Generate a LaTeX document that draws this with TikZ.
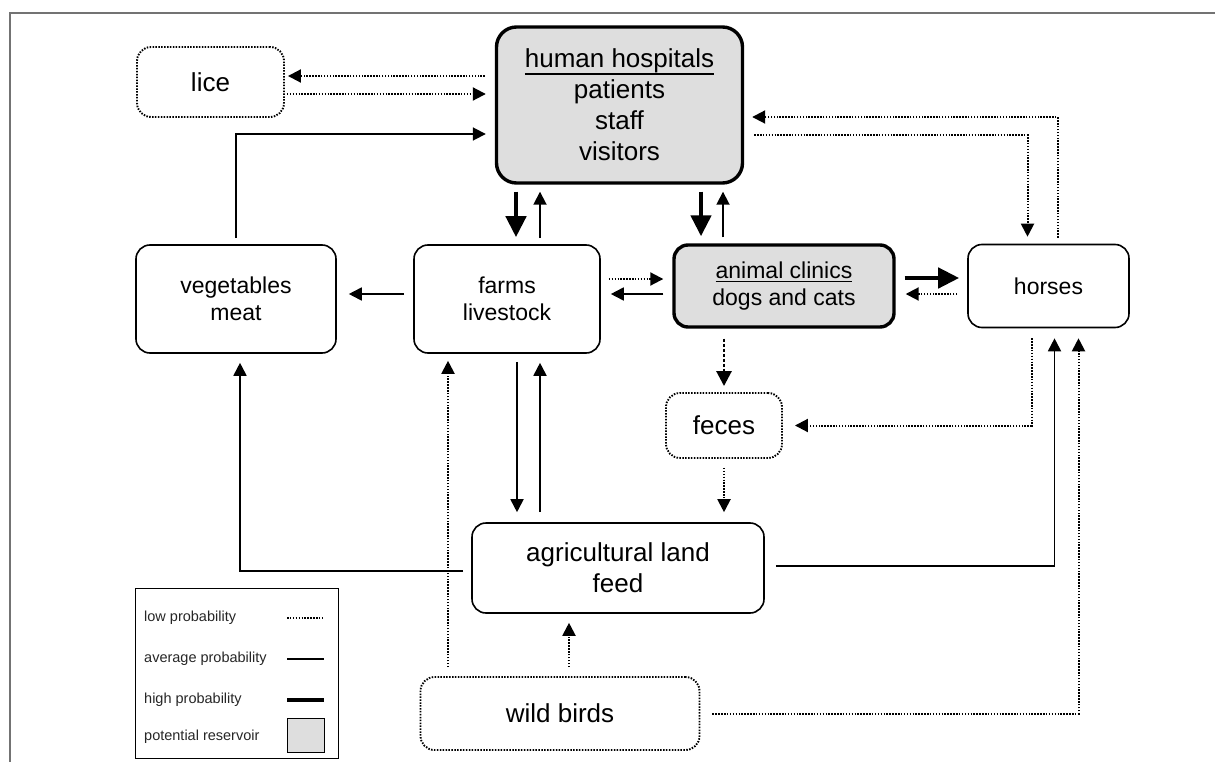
\documentclass[tikz,border=0pt]{standalone}
\usepackage{fontspec}
\setmainfont{Liberation Sans}
\usetikzlibrary{arrows.meta,calc}
\newcommand\ulined[2]{\leavevmode\setbox0=\hbox{#2}\rlap{\rule[#1]{\wd0}{1.8pt}}\box0}
\begin{document}
\begin{tikzpicture}[x=1pt,y=-1pt,
  nbox/.style={draw,line width=1.6pt,rounded corners=14pt,align=center,inner sep=0pt},
  lowbox/.style={nbox,line width=1.9pt,dash pattern=on 1.5pt off 1.4pt},
  resbox/.style={nbox,line width=3.4pt,fill=black!13},
  bigtext/.style={font=\fontsize{26}{31}\selectfont},
  midtext/.style={font=\fontsize{23}{27}\selectfont},
  legtext/.style={anchor=west,inner sep=0pt,text=black!85,font=\fontsize{14.5}{16}\selectfont},
  arrAvg/.style={line width=1.8pt,-{Triangle[length=13pt,width=13pt]}},
  arrLow/.style={line width=2pt,dash pattern=on 1.5pt off 1.4pt,-{Triangle[length=13pt,width=13pt]}},
  arrHigh/.style={line width=4.5pt,-{Triangle[length=21pt,width=20pt]}},
  arrFeces/.style={line width=2.8pt,dash pattern=on 3pt off 2pt,-{Triangle[length=15pt,width=15pt]}},
]
\useasboundingbox (0,0) rectangle (1215,762);
% frame
\draw[black!55,line width=1.5pt] (1215,13) -- (10,13) -- (10,762);

% nodes
\node[lowbox,bigtext,minimum width=147pt,minimum height=70pt] (lice) at (210.5,82) {lice};
\node[resbox,bigtext,minimum width=246pt,minimum height=156pt,rounded corners=20pt] (hosp) at (619.5,105)
  {\ulined{-7pt}{human hospitals}\\patients\\staff\\visitors};
\node[nbox,midtext,minimum width=200pt,minimum height=108pt] (veg) at (236,299) {vegetables\\meat};
\node[nbox,midtext,minimum width=186pt,minimum height=108pt] (farms) at (507,299) {farms\\livestock};
\node[resbox,midtext,minimum width=220pt,minimum height=82pt] (clinics) at (784,286)
  {\ulined{-4pt}{animal clinics}\\dogs and cats};
\node[nbox,midtext,minimum width=161pt,minimum height=83pt] (horses) at (1048.5,286) {horses};
\node[lowbox,bigtext,minimum width=116pt,minimum height=65pt] (feces) at (724,425.5) {feces};
\node[nbox,bigtext,minimum width=292pt,minimum height=90pt] (agri) at (618,568) {agricultural land\\feed};
\node[lowbox,bigtext,minimum width=279pt,minimum height=73pt] (wild) at (560,713.5) {wild birds};

% lice <-> hospital
\draw[arrLow,shorten <=10pt,shorten >=3pt] ($(hosp.west)+(0,-29)$) -- ($(lice.east)+(0,-6)$);
\draw[arrLow,shorten <=2pt,shorten >=9pt] ($(lice.east)+(0,12)$) -- ($(hosp.west)+(0,-11)$);
% vegetables -> hospital
\draw[arrAvg,shorten <=6pt,shorten >=9pt] (veg.north) |- ($(hosp.west)+(0,29)$);
% hospital <-> farms
\draw[arrHigh,shorten <=7pt,shorten >=7pt] ($(hosp.south -| farms.north)+(9,0)$) -- ($(farms.north)+(9,0)$);
\draw[arrAvg,shorten <=6pt,shorten >=7pt] ($(farms.north)+(33,0)$) -- ($(hosp.south -| farms.north)+(33,0)$);
% hospital <-> clinics
\draw[arrHigh,shorten <=7pt,shorten >=7pt] ($(hosp.south -| clinics.north)+(-83,0)$) -- ($(clinics.north)+(-83,0)$);
\draw[arrAvg,shorten <=6pt,shorten >=7pt] ($(clinics.north)+(-61,0)$) -- ($(hosp.south -| clinics.north)+(-61,0)$);
% hospital <-> horses
\draw[arrLow,shorten <=6pt,shorten >=8pt] ($(horses.north)+(9,0)$) |- ($(hosp.east)+(0,12)$);
\draw[arrLow,shorten <=10pt,shorten >=7pt] ($(hosp.east)+(0,30)$) -| ($(horses.north)+(-21,0)$);
% farms -> vegetables
\draw[arrAvg,shorten <=9pt,shorten >=12pt] ($(farms.west)+(0,-5)$) -- ($(veg.east)+(0,-5)$);
% farms <-> clinics
\draw[arrLow,shorten <=8pt,shorten >=9pt] ($(farms.east |- clinics.west)+(0,-7)$) -- ($(clinics.west)+(0,-7)$);
\draw[arrAvg,shorten <=9pt,shorten >=10pt] ($(clinics.west)+(0,8)$) -- ($(farms.east |- clinics.west)+(0,8)$);
% clinics <-> horses
\draw[arrHigh,shorten <=9pt,shorten >=8pt] ($(clinics.east)+(0,-8)$) -- ($(horses.west)+(0,-8)$);
\draw[arrLow,shorten <=10pt,shorten >=10pt] ($(horses.west)+(0,8)$) -- ($(clinics.east)+(0,8)$);
% clinics -> feces
\draw[arrFeces,shorten <=10pt,shorten >=6pt] ($(clinics.south)+(-60,0)$) -- (feces.north);
% horses -> feces
\draw[arrLow,shorten <=10pt,shorten >=12pt] ($(horses.south)+(-17,0)$) |- (feces.east);
% feces -> agri
\draw[arrLow,shorten <=9pt,shorten >=10pt] (feces.south) -- (feces.south |- agri.north);
% farms <-> agri
\draw[arrAvg,shorten <=8pt,shorten >=10pt] ($(farms.south)+(10,0)$) -- ($(farms.south |- agri.north)+(10,0)$);
\draw[arrAvg,shorten <=10pt,shorten >=9pt] ($(farms.south |- agri.north)+(33,0)$) -- ($(farms.south)+(33,0)$);
% agri -> vegetables
\draw[arrAvg,shorten <=8pt,shorten >=9pt] ($(agri.west)+(0,3)$) -| ($(veg.south)+(4,0)$);
% agri -> horses
\draw[arrAvg,shorten <=11pt,shorten >=10pt] ($(agri.east)+(0,-2)$) -| ($(horses.south)+(6,0)$);
% wild birds -> horses
\draw[arrLow,shorten <=12pt,shorten >=10pt] (wild.east) -| ($(horses.south)+(30,0)$);
% wild birds -> farms
\draw[arrLow,shorten <=9pt,shorten >=7pt] ($(farms.south |- wild.north)+(-59,0)$) -- ($(farms.south)+(-59,0)$);
% wild birds -> agri
\draw[arrLow,shorten <=9pt,shorten >=9pt] ($(wild.north)+(9,0)$) -- ($(agri.south -| wild.north)+(9,0)$);

% legend
\node[draw,line width=1pt,minimum width=203pt,minimum height=170pt,inner sep=0pt] (legend) at (236.5,673) {};
\node[legtext] (l1) at (144,618) {low probability};
\node[legtext] (l2) at (144,659) {average probability};
\node[legtext] (l3) at (144,700) {high probability};
\node[legtext] (l4) at (144,737) {potential reservoir};
\coordinate (s1a) at (287,618); \coordinate (s1b) at (324,618);
\coordinate (s2a) at (287,659); \coordinate (s2b) at (324,659);
\coordinate (s3a) at (287,700); \coordinate (s3b) at (324,700);
\draw[line width=2pt,dash pattern=on 1.5pt off 1.4pt] (s1a) -- (s1b);
\draw[line width=1.9pt] (s2a) -- (s2b);
\draw[line width=4.5pt] (s3a) -- (s3b);
\node[draw,line width=0.8pt,fill=black!13,minimum width=37pt,minimum height=34pt,inner sep=0pt] (lsq) at (305.5,735) {};
\end{tikzpicture}
\end{document}
